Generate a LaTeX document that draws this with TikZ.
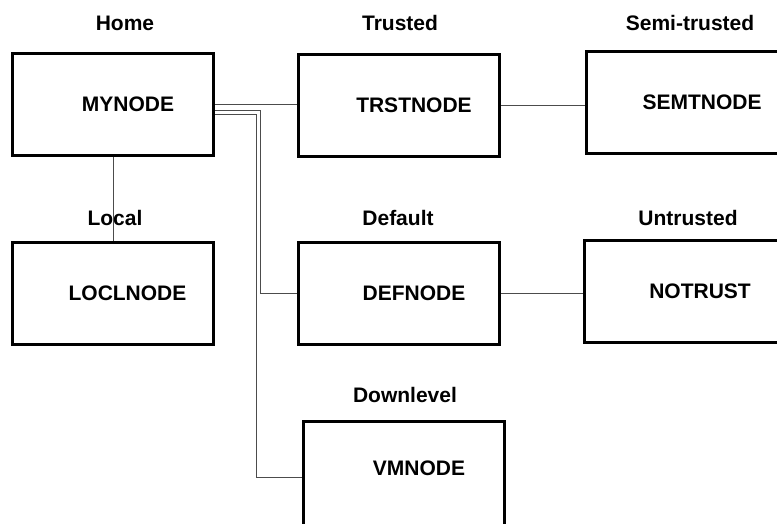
\documentclass[tikz,border=0pt]{standalone}
\usepackage{fontspec}
\setmainfont{Liberation Sans}
\usetikzlibrary{positioning}

\tikzset{
  nodebox/.style={draw, line width=3pt, minimum width=201pt, minimum height=102pt, inner sep=0pt},
  boxname/.style={font=\fontsize{21}{25}\selectfont\bfseries, xshift=15pt},
  head/.style={font=\fontsize{21}{25}\selectfont\bfseries, inner sep=0pt},
  wire/.style={draw=black!70, line width=0.8pt}
}

\begin{document}
\begin{tikzpicture}[x=1pt, y=-1pt]
  \useasboundingbox (0,0) rectangle (777,523);
  \clip (0,0) rectangle (777,523);

  % Draw the node boxes with their names
  \node[nodebox, label={[boxname]center:MYNODE}] (my) at (113,104.5) {};
  \node[nodebox, label={[boxname]center:TRSTNODE}] (trst) at (399,105.5) {};
  \node[nodebox, label={[boxname]center:SEMTNODE}] (semt) at (687,102) {};
  \node[nodebox, label={[boxname]center:LOCLNODE}] (locl) at (112.5,293) {};
  \node[nodebox, label={[boxname]center:DEFNODE}] (def) at (399,293) {};
  \node[nodebox, label={[boxname]center:NOTRUST}] (notr) at (685,291) {};
  \node[nodebox, minimum height=112pt, label={[boxname, yshift=9pt]center:VMNODE}] (vm) at (404,477) {};

  % Headings over the boxes
  \foreach \x/\y/\t [count=\i] in {125/23/Home, 400/23/Trusted, 690/23/Semi-trusted,
      115/218/Local, 398/218/Default, 688/218/Untrusted, 405/395/Downlevel}
    {\node[head] (head\i) at (\x,\y) {\t};}

  % Connect the boxes
  \draw[wire] (my.east) -- (my.east -| trst.west);
  \draw[wire] (trst.east) -- (trst.east -| semt.west);
  \draw[wire] (def.east) -- (def.east -| notr.west);
  \draw[wire] (my.south) -- (my.south |- locl.north);
  \draw[wire] ([yshift=-6pt]my.east) -- ++(45,0) |- (def.west);
  \draw[wire] ([yshift=-10pt]my.east) -- ++(41,0) |- (vm.west);
\end{tikzpicture}
\end{document}
